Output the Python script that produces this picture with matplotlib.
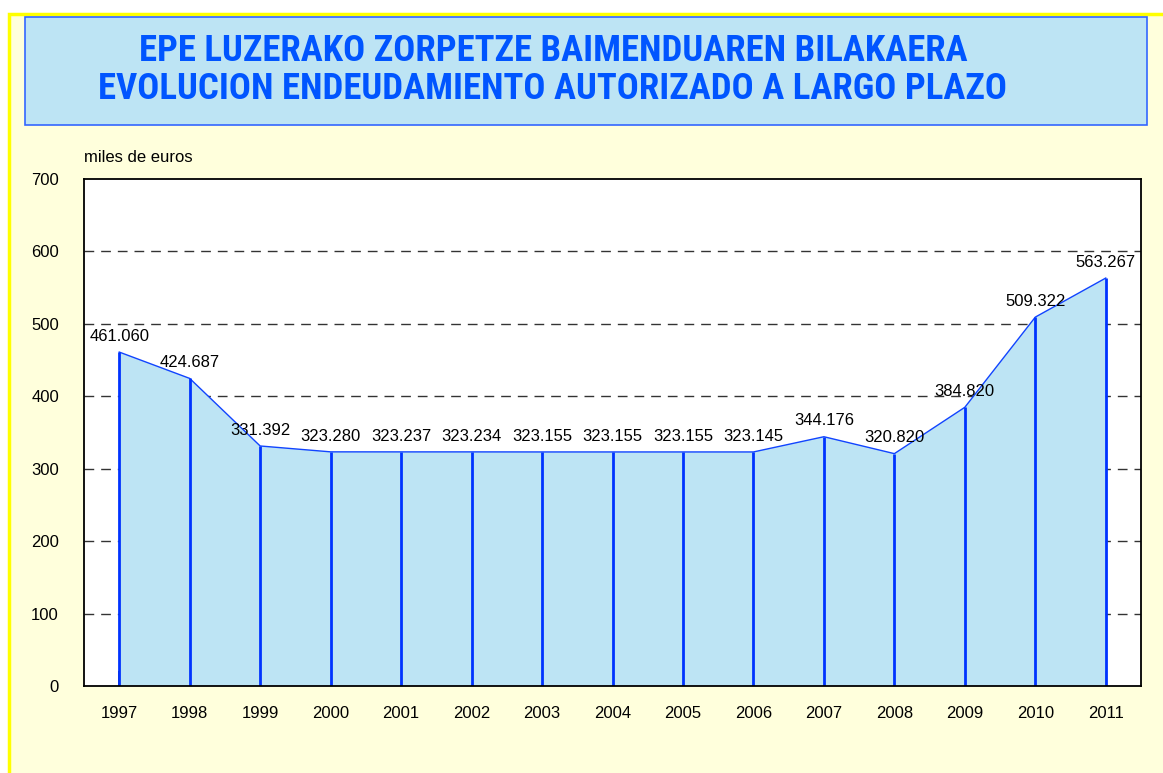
import matplotlib
matplotlib.use("Agg")
import matplotlib.pyplot as plt
from matplotlib.patches import Rectangle

years = ["1997", "1998", "1999", "2000", "2001", "2002", "2003", "2004",
         "2005", "2006", "2007", "2008", "2009", "2010", "2011"]
values = [461.060, 424.687, 331.392, 323.280, 323.237, 323.234, 323.155, 323.155,
          323.155, 323.145, 344.176, 320.820, 384.820, 509.322, 563.267]
labels = ["461.060", "424.687", "331.392", "323.280", "323.237", "323.234", "323.155",
          "323.155", "323.155", "323.145", "344.176", "320.820", "384.820", "509.322", "563.267"]
yticks = [0, 100, 200, 300, 400, 500, 600, 700]
title1 = "EPE LUZERAKO ZORPETZE BAIMENDUAREN BILAKAERA"
title2 = "EVOLUCION ENDEUDAMIENTO AUTORIZADO A LARGO PLAZO"

W, H = 1163, 773
fig = plt.figure(figsize=(W / 100, H / 100), dpi=100)
fig.patch.set_facecolor("white")

# outer light-yellow panel with yellow border
fig.patches.append(Rectangle((9 / W, -0.05), 1.1, 1 - 14 / H + 0.05, transform=fig.transFigure,
                             facecolor="#FFFFDC", edgecolor="#FFFF00", linewidth=2.5, zorder=-10))
# title box
fig.patches.append(Rectangle((25 / W, 1 - 125 / H), (1147 - 25) / W, (125 - 17) / H,
                             transform=fig.transFigure, facecolor="#BDE4F4",
                             edgecolor="#3366FF", linewidth=1.2, zorder=-9))
tfam = ["DejaVu Sans Condensed", "Liberation Sans Narrow", "Roboto Condensed",
        "Liberation Sans", "DejaVu Sans"]
fig.text(553 / W, 1 - 51 / H, title1, ha="center", va="center", fontsize=26.5,
         fontweight="bold", color="#0055FF", family=tfam, zorder=2)
fig.text(553 / W, 1 - 89 / H, title2, ha="center", va="center", fontsize=26.5,
         fontweight="bold", color="#0055FF", family=tfam, zorder=2)

left, right, top, bottom = 84, 1141, 179, 686
ax = fig.add_axes([left / W, 1 - bottom / H, (right - left) / W, (bottom - top) / H])
ax.set_zorder(5)
ax.set_facecolor("white")
x = list(range(len(years)))
ax.set_xlim(-0.5, len(years) - 0.5)
ax.set_ylim(0, 700)

for yv in yticks[1:-1]:
    ax.axhline(yv, color="#333333", linewidth=1, linestyle=(0, (7, 5)), zorder=1)

ax.fill_between(x, 0, values, facecolor="#BDE4F4", edgecolor="none", zorder=2)
ax.plot(x, values, color="#1144FF", linewidth=1.0, zorder=3)
ax.vlines(x, 0, values, colors="#0033FF", linewidth=2.0, zorder=3)

for xi, v, lab in zip(x, values, labels):
    ax.annotate(lab, (xi, v), xytext=(0, 6), textcoords="offset points",
                ha="center", va="bottom", fontsize=12, color="black",
                family=["Liberation Sans", "DejaVu Sans"], zorder=4)

ax.set_xticks(x)
ax.set_xticklabels(years)
ax.set_yticks(yticks)
ax.tick_params(axis="x", direction="in", length=11, width=1.2, color="#111133", pad=14.5,
               labelsize=12)
ax.tick_params(axis="y", length=0, pad=18, labelsize=12)
for lab in ax.get_xticklabels() + ax.get_yticklabels():
    lab.set_family(["Liberation Sans", "DejaVu Sans"])
for sp in ax.spines.values():
    sp.set_color("black")
    sp.set_linewidth(1.3)
    sp.set_zorder(5)

fig.text(left / W, 1 - 158 / H, "miles de euros", ha="left", va="center", fontsize=12,
         family=["Liberation Sans", "DejaVu Sans"])

fig.savefig("out.png", dpi=100)
